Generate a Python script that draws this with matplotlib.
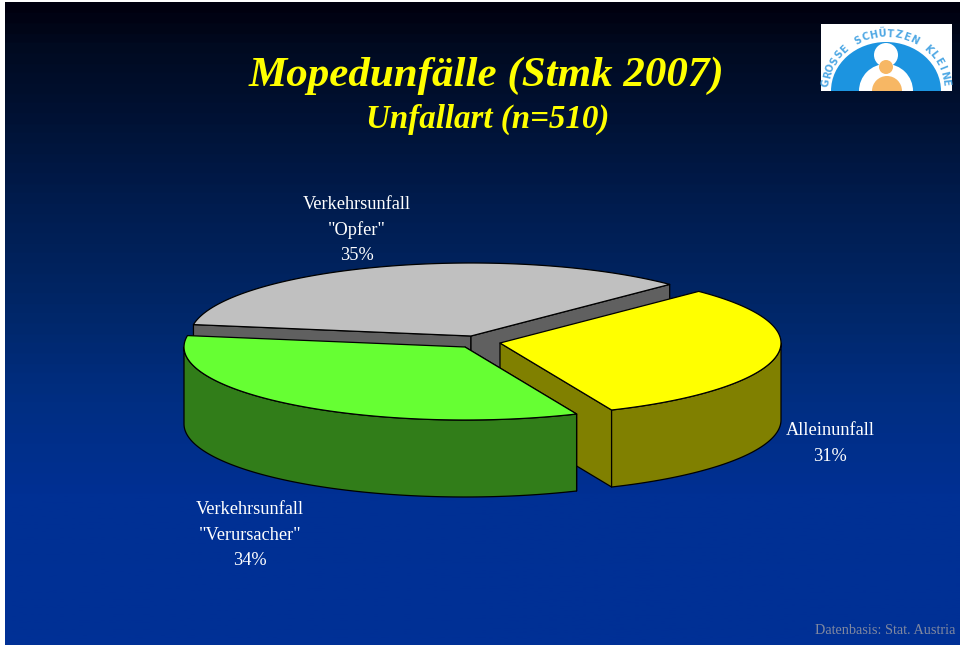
import numpy as np
import matplotlib
matplotlib.use("Agg")
import matplotlib.pyplot as plt
from matplotlib.colors import LinearSegmentedColormap
from matplotlib.patches import Polygon, Circle, Rectangle, Wedge, Ellipse

plt.rcParams['font.family'] = ['Liberation Serif', 'DejaVu Serif']

# data
slice_names = ['Alleinunfall', 'Verkehrsunfall\n"Verursacher"', 'Verkehrsunfall\n"Opfer"']
slice_values = [31, 34, 35]
top_colors = ['#ffff00', '#66ff33', '#c0c0c0']
side_colors = ['#808000', '#317d19', '#606060']
# px offset of each slice from the pie centre
offsets = [(29, 7), (-6, 11), (0, 0)]
label_pos = [(830, 443.5), (250, 535), (357, 230)]

cx, cy = 471, 336
rx, ry = 281, 73
depth = 77
start = 45


def arc(a0, a1, c):
    t = np.radians(np.linspace(a0, a1, 120))
    return np.column_stack([c[0] + rx * np.cos(t), c[1] - ry * np.sin(t)])


fig = plt.figure(figsize=(9.6, 6.45), dpi=100, facecolor='white')
ax = fig.add_axes([0, 0, 1, 1])
ax.set_xlim(0, 960)
ax.set_ylim(645, 0)
ax.axis('off')

# background
cmap = LinearSegmentedColormap.from_list('bg', [(0, '#00000f'), (0.06, '#000a20'), (0.15, '#001030'),
                                                (0.31, '#001c4e'), (0.465, '#002666'), (0.62, '#002e82'),
                                                (0.775, '#003094'), (1, '#003096')], N=64)
grad = np.linspace(0, 1, 300).reshape(-1, 1)
ax.imshow(grad, cmap=cmap, extent=(5, 960, 645, 2), aspect='auto', zorder=0)
ax.set_xlim(0, 960)
ax.set_ylim(645, 0)

# slice angles, clockwise from start
angles = []
a = start
for v in slice_values:
    b = a - v / sum(slice_values) * 360
    angles.append((a, b))
    a = b

# back to front: grey, yellow, green
z = 2
for i in [2, 0, 1]:
    a0, a1 = angles[i]
    c = (cx + offsets[i][0], cy + offsets[i][1])
    top = arc(a0, a1, c)
    kw = dict(edgecolor='black', linewidth=0.9, joinstyle='round')
    # cut faces
    for p in (top[0], top[-1]):
        if (p[1] > c[1]) or i == 2:
            quad = [c, p, p + [0, depth], (c[0], c[1] + depth)]
            ax.add_patch(Polygon(quad, facecolor=side_colors[i], zorder=z, **kw))
    # outer wall, front part only
    lo, hi = max(a1, -180), min(a0, 0)
    if lo < hi:
        wall = arc(lo, hi, c)
        ax.add_patch(Polygon(np.vstack([wall, wall[::-1] + [0, depth]]),
                             facecolor=side_colors[i], zorder=z, **kw))
    ax.add_patch(Polygon(np.vstack([c, top]), facecolor=top_colors[i], zorder=z + 0.5, **kw))
    z += 1

# labels
for name, v, pos in zip(slice_names, slice_values, label_pos):
    lines = name.split('\n') + [f'{v}%']
    y0 = pos[1] - (len(lines) - 1) * 25.5 / 2
    for j, s in enumerate(lines):
        ax.text(pos[0], y0 + j * 25.5, s, color='white', fontsize=13.2, ha='center', va='center', zorder=10)

# titles
ax.text(486.5, 75.5, 'Mopedunfälle (Stmk 2007)', color='#ffff00', fontsize=31, fontweight='bold',
        fontstyle='italic', ha='center', va='center', zorder=10)
ax.text(487.5, 119, 'Unfallart (n=510)', color='#ffff00', fontsize=23.8, fontweight='bold',
        fontstyle='italic', ha='center', va='center', zorder=10)
ax.text(955, 630, 'Datenbasis: Stat. Austria', color='#8088a0', fontsize=10.3, ha='right', va='center', zorder=10)

# logo
clip = Rectangle((821, 24), 131, 67, facecolor='white', edgecolor='none', zorder=11)
ax.add_patch(clip)
blue = Ellipse((886, 91), 110, 98, facecolor='#1c94e0', edgecolor='none', zorder=12)
ax.add_patch(blue)
blue.set_clip_path(clip)
inner = Wedge((886, 91), 27, 180, 360, facecolor='white', edgecolor='none', zorder=13)
ax.add_patch(inner)
ax.add_patch(Circle((886, 55), 12, facecolor='white', edgecolor='none', zorder=13))
ax.add_patch(Circle((886, 67), 7, facecolor='#f7b764', edgecolor='none', zorder=14))
body = Wedge((887, 91), 15, 180, 360, facecolor='#f7b764', edgecolor='none', zorder=14)
ax.add_patch(body)
logo_text = 'GROSSE SCHÜTZEN KLEINE'
for ch, t in zip(logo_text, np.linspace(174, 6, len(logo_text))):
    r = np.radians(t)
    ax.text(886 + 60 * np.cos(r), 88 - 54 * np.sin(r), ch, color='#4fa8e4', fontsize=7, fontweight='bold',
            family='DejaVu Sans', rotation=t - 90, rotation_mode='anchor', ha='center', va='center', zorder=15,
            clip_on=True, clip_path=clip)

fig.savefig('out.png', dpi=100, facecolor='white')
